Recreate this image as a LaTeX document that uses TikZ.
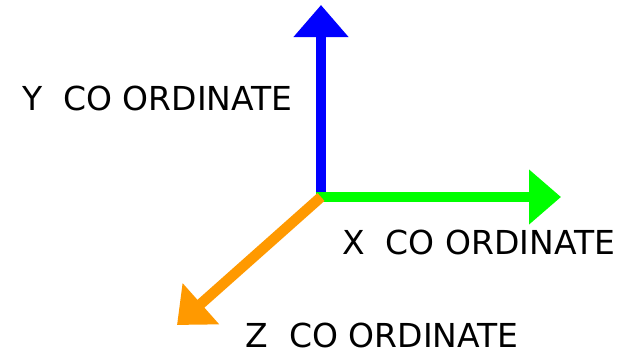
\documentclass[tikz,border=0pt]{standalone}
\usepackage{fontspec}
\setmainfont{DejaVu Sans}
\usetikzlibrary{arrows.meta}
\definecolor{axblue}{RGB}{0,0,255}
\definecolor{axgreen}{RGB}{0,255,0}
\definecolor{axorange}{RGB}{255,153,0}
\begin{document}
\begin{tikzpicture}[x=1bp,y=-1bp,
  axis/.style={line width=10.5bp, line cap=butt, -{Triangle[length=32bp,width=53bp]}},
  lbl/.style={anchor=base west, inner sep=0pt, font=\fontsize{33bp}{36bp}\selectfont, text=black}]
\useasboundingbox (0,0) rectangle (629,353);
\coordinate (O) at (321,197);
\coordinate (Ostart) at (316,197);
\coordinate (Ybot) at (321,202);
\coordinate (Ytip) at (321,5);
\coordinate (Xtip) at (561,197);
\coordinate (Ztip) at (177,325);
\draw[axis, draw=axblue, fill=axblue] (Ybot) -- (Ytip);
\draw[axis, draw=axgreen, fill=axgreen] (Ostart) -- (Xtip);
\draw[axis, draw=axorange, fill=axorange] (O) -- (Ztip);
\node[lbl] (ylabel) at (22,110) {Y\ \ CO ORDINATE};
\node[lbl] (xlabel) at (342,254) {X\ \ CO ORDINATE};
\node[lbl] (zlabel) at (245.5,347.5) {Z\ \ CO ORDINATE};
\end{tikzpicture}
\end{document}
